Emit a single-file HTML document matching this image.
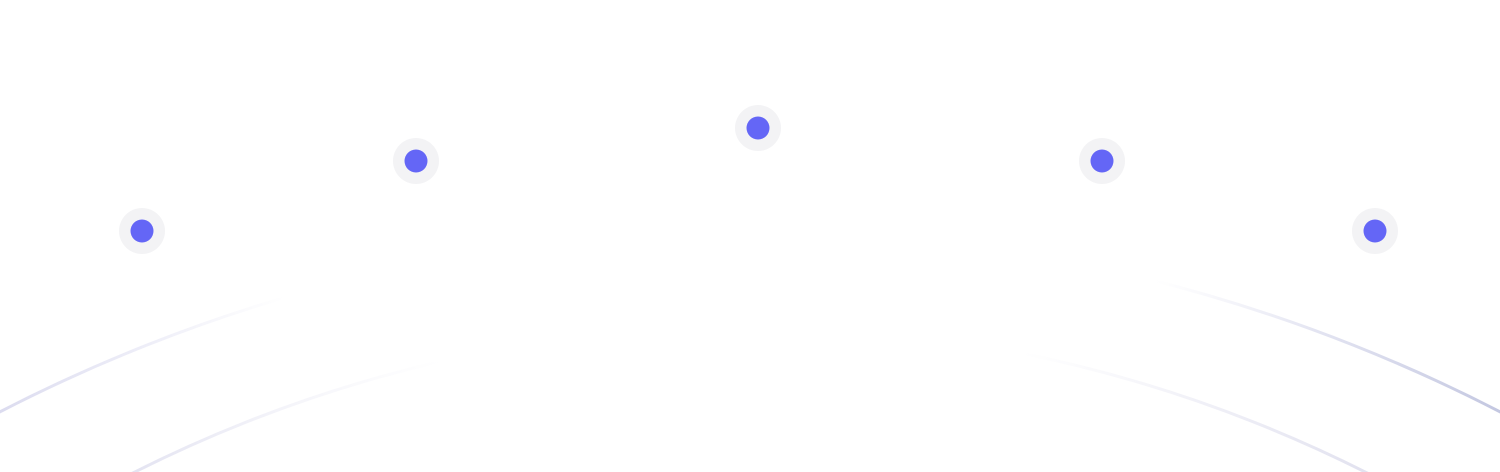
<!DOCTYPE html>
<html><head><style>
html,body{margin:0;padding:0;background:#fff;width:1500px;height:472px;overflow:hidden}
svg{display:block}
</style></head><body>
<svg width="1500" height="472" viewBox="0 0 1500 472" xmlns="http://www.w3.org/2000/svg">
<defs>
<linearGradient id="g1" x1="0" y1="0" x2="1500" y2="0" gradientUnits="userSpaceOnUse">
<stop offset="0" stop-color="#d0d0ea" stop-opacity="0.75"/>
<stop offset="0.1" stop-color="#dadaf0" stop-opacity="0.45"/>
<stop offset="0.19" stop-color="#e0e0f0" stop-opacity="0"/>
<stop offset="0.77" stop-color="#e0e0f0" stop-opacity="0"/>
<stop offset="0.88" stop-color="#cfd1e8" stop-opacity="0.6"/>
<stop offset="1" stop-color="#c0c4df" stop-opacity="0.95"/>
</linearGradient>
<linearGradient id="g2" x1="135" y1="0" x2="1365" y2="0" gradientUnits="userSpaceOnUse">
<stop offset="0" stop-color="#d8d8ec" stop-opacity="0.7"/>
<stop offset="0.12" stop-color="#e0e0f0" stop-opacity="0.35"/>
<stop offset="0.25" stop-color="#e6e6f2" stop-opacity="0"/>
<stop offset="0.72" stop-color="#e6e6f2" stop-opacity="0"/>
<stop offset="0.87" stop-color="#dedeee" stop-opacity="0.45"/>
<stop offset="1" stop-color="#d8d8ea" stop-opacity="0.75"/>
</linearGradient>
</defs>
<circle cx="750" cy="1868" r="1638" fill="none" stroke="url(#g1)" stroke-width="3"/>
<circle cx="750" cy="1695" r="1369" fill="none" stroke="url(#g2)" stroke-width="3"/>
<g fill="#f3f3f5">
<circle cx="142" cy="231" r="23"/><circle cx="416" cy="161" r="23"/><circle cx="758" cy="128" r="23"/><circle cx="1102" cy="161" r="23"/><circle cx="1375" cy="231" r="23"/>
</g>
<g fill="#6466f6">
<circle cx="142" cy="231" r="11.5"/><circle cx="416" cy="161" r="11.5"/><circle cx="758" cy="128" r="11.5"/><circle cx="1102" cy="161" r="11.5"/><circle cx="1375" cy="231" r="11.5"/>
</g>
</svg>
</body></html>
